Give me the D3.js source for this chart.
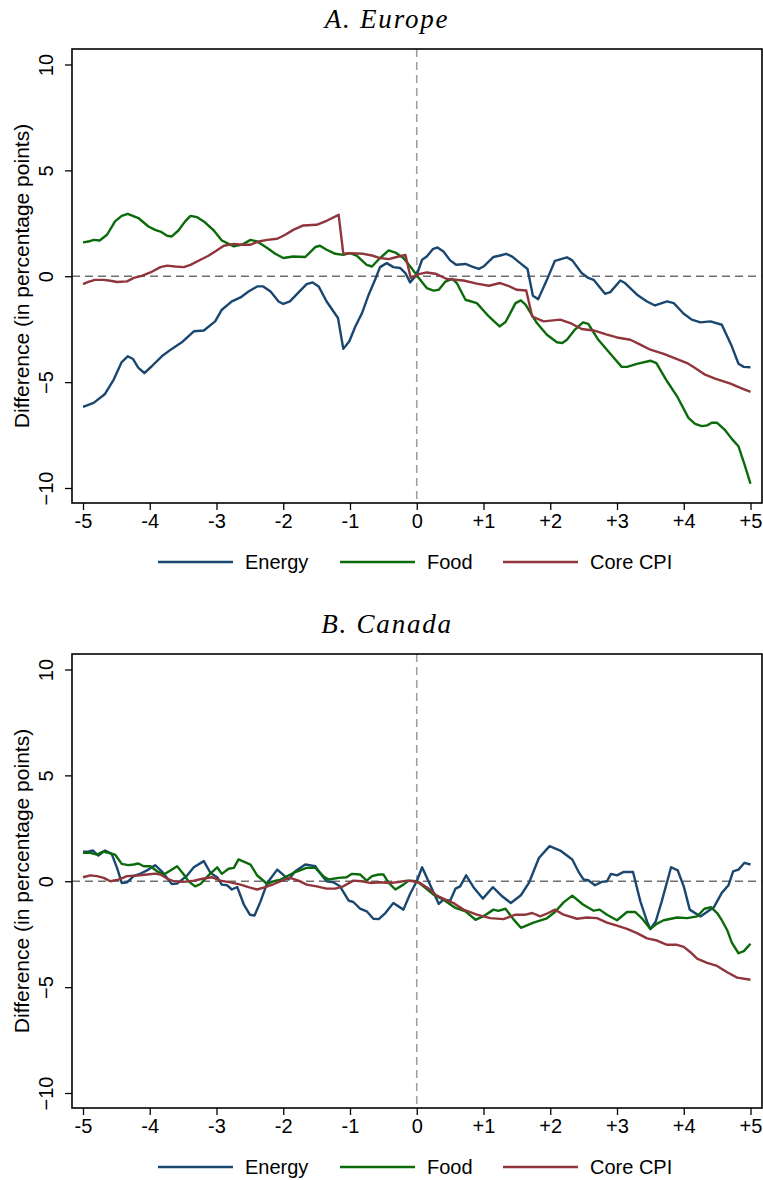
<!DOCTYPE html>
<html>
<head>
<meta charset="utf-8">
<script src="https://cdn.jsdelivr.net/npm/d3@7"></script>
<style>
  body { margin: 0; background: #fff; }
  svg { display: block; }
  .tick text { font-family: 'Liberation Sans', Arial, sans-serif; }
</style>
</head>
<body>
<svg id="canvas"></svg>
<script>
// ---- data: [years from event, difference in p.p.] ----
let xTicks = [-5, -4, -3, -2, -1, 0, 1, 2, 3, 4, 5];
let xTickLabels = ['-5', '-4', '-3', '-2', '-1', '0', '+1', '+2', '+3', '+4', '+5'];
let yTicks = [-10, -5, 0, 5, 10];
let seriesNames = ['Energy', 'Food', 'Core CPI'];
let panelTitles = ['A. Europe', 'B. Canada'];

let europeEnergy = [
  [-5.0, -6.17], [-4.84, -5.98], [-4.67, -5.56], [-4.54, -4.88], [-4.42, -4.05], [-4.33, -3.78],
  [-4.25, -3.91], [-4.17, -4.33], [-4.08, -4.57], [-3.97, -4.25], [-3.82, -3.78], [-3.67, -3.43],
  [-3.52, -3.12], [-3.34, -2.60], [-3.19, -2.56], [-3.02, -2.13], [-2.92, -1.58], [-2.77, -1.19],
  [-2.64, -1.00], [-2.52, -0.72], [-2.39, -0.48], [-2.30, -0.48], [-2.19, -0.72], [-2.07, -1.19],
  [-2.0, -1.31], [-1.90, -1.19], [-1.77, -0.76], [-1.65, -0.37], [-1.56, -0.29], [-1.47, -0.48],
  [-1.35, -1.19], [-1.18, -1.97], [-1.10, -3.43], [-1.01, -3.07], [-0.92, -2.37], [-0.82, -1.74],
  [-0.72, -0.87], [-0.62, -0.13], [-0.55, 0.43], [-0.45, 0.62], [-0.35, 0.43], [-0.25, 0.39],
  [-0.17, 0.15], [-0.10, -0.29], [0.0, 0.07], [0.08, 0.78], [0.15, 0.93], [0.24, 1.28],
  [0.31, 1.36], [0.40, 1.17], [0.50, 0.75], [0.59, 0.54], [0.73, 0.58], [0.83, 0.46],
  [0.93, 0.35], [1.0, 0.46], [1.15, 0.91], [1.25, 0.98], [1.34, 1.06], [1.43, 0.93],
  [1.55, 0.62], [1.66, 0.34], [1.74, -0.92], [1.82, -1.08], [1.95, -0.17], [2.07, 0.73],
  [2.25, 0.89], [2.33, 0.75], [2.47, 0.15], [2.57, -0.08], [2.65, -0.17], [2.82, -0.83],
  [2.90, -0.75], [3.05, -0.20], [3.12, -0.32], [3.30, -0.87], [3.45, -1.19], [3.57, -1.38],
  [3.75, -1.19], [3.85, -1.27], [4.0, -1.77], [4.12, -2.05], [4.25, -2.18], [4.40, -2.13],
  [4.57, -2.29], [4.72, -3.31], [4.82, -4.13], [4.90, -4.28], [5.0, -4.30]
];
let europeFood = [
  [-5.0, 1.60], [-4.92, 1.64], [-4.84, 1.72], [-4.75, 1.69], [-4.64, 1.96], [-4.52, 2.59],
  [-4.42, 2.85], [-4.33, 2.95], [-4.17, 2.75], [-4.02, 2.35], [-3.92, 2.19], [-3.84, 2.11],
  [-3.74, 1.91], [-3.67, 1.88], [-3.57, 2.16], [-3.47, 2.59], [-3.39, 2.85], [-3.29, 2.79],
  [-3.19, 2.59], [-3.04, 2.16], [-2.92, 1.69], [-2.74, 1.41], [-2.62, 1.49], [-2.49, 1.72],
  [-2.39, 1.64], [-2.24, 1.33], [-2.12, 1.06], [-2.0, 0.86], [-1.85, 0.93], [-1.67, 0.91],
  [-1.52, 1.38], [-1.45, 1.44], [-1.35, 1.25], [-1.22, 1.06], [-1.10, 1.01], [-1.0, 1.09],
  [-0.90, 0.97], [-0.75, 0.54], [-0.67, 0.46], [-0.55, 0.86], [-0.42, 1.22], [-0.32, 1.12],
  [-0.20, 0.86], [-0.07, 0.35], [0.03, -0.08], [0.15, -0.56], [0.25, -0.68], [0.33, -0.64],
  [0.43, -0.25], [0.53, -0.12], [0.60, -0.32], [0.73, -1.11], [0.90, -1.27], [1.08, -1.90],
  [1.24, -2.37], [1.33, -2.16], [1.48, -1.27], [1.56, -1.14], [1.63, -1.34], [1.80, -2.21],
  [1.95, -2.76], [2.10, -3.12], [2.18, -3.15], [2.25, -3.00], [2.37, -2.52], [2.49, -2.18],
  [2.57, -2.25], [2.72, -3.00], [2.90, -3.66], [3.07, -4.28], [3.15, -4.28], [3.30, -4.14],
  [3.50, -3.99], [3.59, -4.10], [3.75, -4.96], [3.90, -5.67], [4.07, -6.69], [4.17, -6.97],
  [4.27, -7.08], [4.35, -7.04], [4.42, -6.92], [4.50, -6.92], [4.62, -7.27], [4.72, -7.68],
  [4.82, -8.03], [4.91, -8.89], [5.0, -9.80]
];
let europeCore = [
  [-5.0, -0.37], [-4.92, -0.27], [-4.82, -0.17], [-4.69, -0.17], [-4.59, -0.21], [-4.49, -0.27],
  [-4.34, -0.24], [-4.24, -0.08], [-4.12, 0.02], [-3.99, 0.18], [-3.84, 0.43], [-3.74, 0.50],
  [-3.62, 0.46], [-3.49, 0.43], [-3.39, 0.54], [-3.24, 0.78], [-3.12, 0.97], [-3.02, 1.17],
  [-2.89, 1.44], [-2.74, 1.53], [-2.62, 1.49], [-2.49, 1.49], [-2.37, 1.64], [-2.24, 1.72],
  [-2.09, 1.77], [-1.97, 1.96], [-1.85, 2.19], [-1.70, 2.40], [-1.50, 2.43], [-1.35, 2.62],
  [-1.17, 2.90], [-1.10, 1.06], [-1.0, 1.09], [-0.80, 1.06], [-0.67, 0.98], [-0.55, 0.86],
  [-0.42, 0.81], [-0.30, 0.91], [-0.17, 1.01], [-0.09, -0.08], [0.03, 0.10], [0.15, 0.18],
  [0.28, 0.12], [0.45, -0.13], [0.70, -0.20], [0.90, -0.35], [1.08, -0.45], [1.25, -0.32],
  [1.37, -0.45], [1.50, -0.64], [1.64, -0.67], [1.73, -1.90], [1.90, -2.13], [2.15, -2.05],
  [2.30, -2.21], [2.47, -2.49], [2.65, -2.56], [2.85, -2.76], [3.0, -2.89], [3.20, -3.00],
  [3.35, -3.23], [3.50, -3.47], [3.70, -3.67], [3.90, -3.91], [4.05, -4.10], [4.17, -4.33],
  [4.32, -4.65], [4.47, -4.83], [4.70, -5.07], [4.85, -5.27], [5.0, -5.46]
];

let canadaEnergy = [
  [-5.0, 1.39], [-4.94, 1.39], [-4.85, 1.45], [-4.77, 1.21], [-4.67, 1.45], [-4.57, 1.29],
  [-4.49, 0.63], [-4.42, -0.08], [-4.34, -0.05], [-4.24, 0.24], [-4.12, 0.39], [-4.02, 0.55],
  [-3.92, 0.76], [-3.82, 0.47], [-3.67, -0.13], [-3.59, -0.11], [-3.45, 0.24], [-3.34, 0.66],
  [-3.19, 0.95], [-3.09, 0.39], [-2.99, 0.19], [-2.92, -0.16], [-2.84, -0.19], [-2.77, -0.39],
  [-2.69, -0.27], [-2.59, -1.10], [-2.50, -1.58], [-2.43, -1.62], [-2.34, -0.95], [-2.24, -0.08],
  [-2.09, 0.55], [-1.99, 0.28], [-1.92, 0.08], [-1.82, 0.47], [-1.67, 0.79], [-1.52, 0.71],
  [-1.45, 0.39], [-1.35, 0.0], [-1.25, -0.05], [-1.15, -0.24], [-1.02, -0.91], [-0.95, -0.98],
  [-0.85, -1.29], [-0.75, -1.42], [-0.65, -1.77], [-0.57, -1.79], [-0.47, -1.50], [-0.35, -1.03],
  [-0.20, -1.34], [-0.10, -0.60], [0.0, 0.0], [0.08, 0.66], [0.20, -0.16], [0.33, -1.07],
  [0.40, -0.87], [0.50, -0.92], [0.58, -0.35], [0.65, -0.24], [0.74, 0.28], [0.85, -0.28],
  [0.99, -0.82], [1.14, -0.28], [1.28, -0.71], [1.41, -1.03], [1.56, -0.66], [1.68, -0.08],
  [1.83, 1.10], [1.99, 1.66], [2.15, 1.45], [2.33, 1.03], [2.42, 0.47], [2.50, 0.08],
  [2.57, 0.05], [2.67, -0.19], [2.77, -0.03], [2.85, 0.0], [2.91, 0.35], [3.0, 0.28],
  [3.10, 0.44], [3.24, 0.44], [3.35, -0.95], [3.45, -1.90], [3.50, -2.26], [3.58, -1.90],
  [3.67, -0.95], [3.81, 0.66], [3.91, 0.51], [4.0, -0.24], [4.09, -1.34], [4.25, -1.66],
  [4.45, -1.23], [4.57, -0.55], [4.67, -0.19], [4.74, 0.47], [4.82, 0.55], [4.91, 0.87],
  [5.0, 0.79]
];
let canadaFood = [
  [-5.0, 1.34], [-4.89, 1.34], [-4.79, 1.26], [-4.70, 1.40], [-4.62, 1.34], [-4.52, 1.26],
  [-4.42, 0.82], [-4.32, 0.76], [-4.24, 0.79], [-4.17, 0.84], [-4.09, 0.71], [-3.99, 0.71],
  [-3.89, 0.47], [-3.79, 0.32], [-3.69, 0.51], [-3.59, 0.71], [-3.49, 0.32], [-3.42, 0.0],
  [-3.32, -0.24], [-3.24, -0.13], [-3.12, 0.28], [-2.99, 0.66], [-2.92, 0.35], [-2.82, 0.59],
  [-2.74, 0.63], [-2.67, 1.03], [-2.49, 0.79], [-2.39, 0.27], [-2.24, -0.13], [-2.14, 0.0],
  [-2.04, 0.08], [-1.85, 0.39], [-1.65, 0.63], [-1.52, 0.63], [-1.40, 0.24], [-1.32, 0.08],
  [-1.17, 0.16], [-1.05, 0.19], [-0.97, 0.35], [-0.85, 0.32], [-0.75, 0.03], [-0.67, 0.24],
  [-0.57, 0.32], [-0.50, 0.32], [-0.42, -0.08], [-0.32, -0.39], [-0.20, -0.16], [-0.12, 0.03],
  [0.0, 0.0], [0.10, -0.24], [0.25, -0.63], [0.40, -0.87], [0.58, -1.26], [0.73, -1.42],
  [0.88, -1.82], [1.00, -1.65], [1.15, -1.34], [1.22, -1.40], [1.33, -1.30], [1.45, -1.80],
  [1.56, -2.20], [1.75, -1.95], [1.95, -1.75], [2.07, -1.45], [2.20, -1.00], [2.33, -0.68],
  [2.49, -1.10], [2.65, -1.39], [2.74, -1.34], [2.85, -1.58], [3.0, -1.84], [3.15, -1.45],
  [3.27, -1.45], [3.37, -1.74], [3.50, -2.25], [3.60, -2.00], [3.70, -1.84], [3.90, -1.71],
  [4.05, -1.74], [4.20, -1.66], [4.31, -1.30], [4.41, -1.23], [4.50, -1.50], [4.57, -1.84],
  [4.65, -2.30], [4.72, -2.90], [4.82, -3.40], [4.90, -3.30], [5.0, -2.95]
];
let canadaCore = [
  [-5.0, 0.19], [-4.89, 0.28], [-4.79, 0.24], [-4.69, 0.16], [-4.59, 0.0], [-4.47, 0.08],
  [-4.34, 0.24], [-4.19, 0.27], [-4.04, 0.32], [-3.92, 0.36], [-3.84, 0.32], [-3.74, 0.13],
  [-3.64, 0.0], [-3.49, -0.03], [-3.34, 0.03], [-3.19, 0.13], [-3.07, 0.19], [-2.94, 0.03],
  [-2.79, -0.05], [-2.64, -0.16], [-2.52, -0.28], [-2.39, -0.39], [-2.27, -0.28], [-2.14, -0.13],
  [-2.02, 0.03], [-1.90, 0.16], [-1.77, 0.03], [-1.65, -0.16], [-1.50, -0.24], [-1.35, -0.35],
  [-1.22, -0.35], [-1.10, -0.24], [-0.95, 0.03], [-0.82, 0.0], [-0.70, -0.08], [-0.55, -0.05],
  [-0.40, -0.08], [-0.25, -0.03], [-0.15, 0.03], [-0.05, 0.0], [0.05, -0.08], [0.18, -0.35],
  [0.30, -0.68], [0.43, -0.87], [0.55, -1.03], [0.70, -1.34], [0.90, -1.58], [1.10, -1.74],
  [1.30, -1.79], [1.48, -1.58], [1.63, -1.58], [1.73, -1.50], [1.85, -1.66], [1.97, -1.50],
  [2.07, -1.34], [2.20, -1.58], [2.40, -1.77], [2.55, -1.71], [2.70, -1.74], [2.85, -1.95],
  [3.0, -2.10], [3.15, -2.25], [3.30, -2.45], [3.45, -2.70], [3.60, -2.80], [3.75, -3.00],
  [3.90, -3.00], [4.0, -3.10], [4.10, -3.35], [4.20, -3.65], [4.35, -3.85], [4.50, -4.00],
  [4.65, -4.30], [4.80, -4.55], [5.0, -4.65]
];

let colors = ['#1a476f', '#0b6b0b', '#90353b'];

let width = 763;
let height = 1180;
let panelShift = 605;

let canvas = d3.select('#canvas').
attr('width', width).
attr('height', height);

let frame = { left: 72, right: 762, top: 49, bottom: 503 };

let xScale = d3.scaleLinear().
domain([-5, 5]).
range([83, 750.5]);

let yScale = d3.scaleLinear().
domain([-10, 10]).
range([488, 64.5]);

let line = d3.line().
x(d => xScale(d[0])).
y(d => yScale(d[1]));

let drawPanel = (title, data, top) => {
  let g = canvas.append('g').attr('transform', 'translate(0,' + top + ')');

  g.append('text').
  attr('x', 387).
  attr('y', 28).
  attr('text-anchor', 'middle').
  style('font-family', "'Liberation Serif', 'DejaVu Serif', serif").
  style('font-style', 'italic').
  style('font-size', '27px').
  style('letter-spacing', '1.8px').
  text(title);

  // reference lines
  g.append('line').
  attr('x1', frame.left).attr('x2', frame.right).
  attr('y1', yScale(0)).attr('y2', yScale(0)).
  attr('stroke', '#6e6e6e').attr('stroke-width', 1.6).
  attr('stroke-dasharray', '8,5');
  g.append('line').
  attr('x1', xScale(0)).attr('x2', xScale(0)).
  attr('y1', frame.top).attr('y2', frame.bottom).
  attr('stroke', '#a0a0a0').attr('stroke-width', 1.6).
  attr('stroke-dasharray', '8,5');

  data.forEach((s, i) => {
    g.append('path').
    datum(s).
    attr('fill', 'none').
    attr('stroke', colors[i]).
    attr('stroke-width', 2.4).
    attr('stroke-linejoin', 'round').
    attr('d', line);
  });

  g.append('rect').
  attr('x', frame.left).
  attr('y', frame.top).
  attr('width', frame.right - frame.left).
  attr('height', frame.bottom - frame.top).
  attr('fill', 'none').
  attr('stroke', '#000').
  attr('stroke-width', 1.6);

  let xAxis = d3.axisBottom(xScale).
  tickValues(xTicks).
  tickFormat((d, i) => xTickLabels[i]).
  tickSize(7).
  tickPadding(4);
  let xg = g.append('g').
  attr('transform', 'translate(0,' + frame.bottom + ')').
  call(xAxis);
  xg.select('.domain').remove();
  xg.selectAll('line').attr('stroke-width', 1.3);
  xg.selectAll('text').style('font-size', '20px').attr('fill', '#000');

  let yAxis = d3.axisLeft(yScale).
  tickValues(yTicks).
  tickSize(7);
  let yg = g.append('g').
  attr('transform', 'translate(' + frame.left + ',0)').
  call(yAxis);
  yg.select('.domain').remove();
  yg.selectAll('line').attr('stroke-width', 1.3);
  yg.selectAll('text').
  attr('x', 0).
  attr('y', -19).
  attr('dy', 0).
  attr('text-anchor', 'middle').
  attr('transform', 'rotate(-90)').
  attr('fill', '#000').
  style('font-size', '20px');

  g.append('text').
  attr('transform', 'translate(29,' + ((frame.top + frame.bottom) / 2) + ') rotate(-90)').
  attr('text-anchor', 'middle').
  style('font-family', "'Liberation Sans', Arial, sans-serif").
  style('font-size', '21px').
  text('Difference (in percentage points)');

  // legend
  let legendX = [158, 340, 503];
  seriesNames.forEach((name, i) => {
    g.append('line').
    attr('x1', legendX[i]).attr('x2', legendX[i] + 75).
    attr('y1', 562).attr('y2', 562).
    attr('stroke', colors[i]).attr('stroke-width', 2.6);
    g.append('text').
    attr('x', legendX[i] + 87).
    attr('y', 562).
    attr('dy', '0.35em').
    style('font-family', "'Liberation Sans', Arial, sans-serif").
    style('font-size', '20px').
    text(name);
  });
};

drawPanel(panelTitles[0], [europeEnergy, europeFood, europeCore], 0);
drawPanel(panelTitles[1], [canadaEnergy, canadaFood, canadaCore], panelShift);
</script>
</body>
</html>
